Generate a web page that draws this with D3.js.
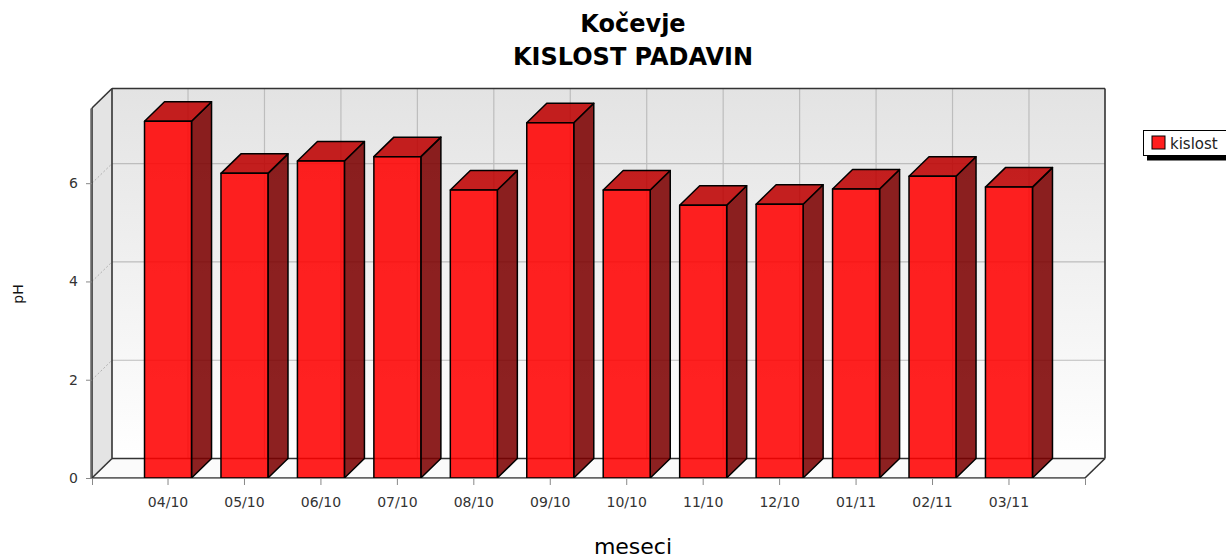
<!DOCTYPE html>
<html>
<head>
<meta charset="utf-8">
<script src="https://cdn.jsdelivr.net/npm/d3@7"></script>
<style>
  html, body { margin: 0; padding: 0; background: #ffffff; }
  svg { display: block; }
  text { font-family: "DejaVu Sans", sans-serif; }
</style>
</head>
<body>
<svg id="chart" width="1226" height="558"></svg>
<script>
// Monthly precipitation acidity (pH), Kočevje
const categories = ["04/10", "05/10", "06/10", "07/10", "08/10", "09/10",
                    "10/10", "11/10", "12/10", "01/11", "02/11", "03/11"];
const phValues = [7.26, 6.20, 6.45, 6.54, 5.86, 7.23, 5.86, 5.55, 5.57, 5.88, 6.14, 5.92];
const yTicks = [0, 2, 4, 6];
const titleLines = ["Kočevje", "KISLOST PADAVIN"];
const seriesName = "kislost";
const yTitle = "pH";
const xTitle = "meseci";
const yMax = 7.53;

const svg = d3.select("#chart");

// front face of the plot box and the 3D depth offset
const plot = { left: 92, right: 1085, top: 108, bottom: 478 };
const dx = 20, dy = 19.5;

const x = d3.scaleBand()
  .domain(categories)
  .range([plot.left, plot.right])
  .paddingInner(0.385)
  .paddingOuter(0.687);

const y = d3.scaleLinear()
  .domain([0, yMax])
  .range([plot.bottom, plot.top]);

const defs = svg.append("defs");
const grad = defs.append("linearGradient")
  .attr("id", "backWall").attr("x1", 0).attr("y1", 0).attr("x2", 0).attr("y2", 1);
grad.append("stop").attr("offset", "0%").attr("stop-color", "#e3e3e3");
grad.append("stop").attr("offset", "100%").attr("stop-color", "#ffffff");

const line = d3.line();
const bx0 = plot.left + dx, bx1 = plot.right + dx;
const byTop = plot.top - dy, byBot = plot.bottom - dy;

// walls
svg.append("path")
  .attr("d", line([[bx0, byTop], [bx1, byTop], [bx1, byBot], [bx0, byBot]]) + "Z")
  .attr("fill", "url(#backWall)");
svg.append("path")
  .attr("d", line([[plot.left, plot.top], [bx0, byTop], [bx0, byBot], [plot.left, plot.bottom]]) + "Z")
  .attr("fill", "#e4e4e4");
svg.append("path")
  .attr("d", line([[plot.left, plot.bottom], [bx0, byBot], [bx1, byBot], [plot.right, plot.bottom]]) + "Z")
  .attr("fill", "#fbfbfb");

// gridlines
const grid = svg.append("g");
yTicks.filter(v => v > 0).forEach(v => {
  const yy = y(v);
  grid.append("line")
    .attr("x1", bx0).attr("x2", bx1)
    .attr("y1", yy - dy).attr("y2", yy - dy)
    .attr("stroke", "#bdbdbd").attr("stroke-width", 1.2);
  grid.append("line")
    .attr("x1", plot.left).attr("y1", yy)
    .attr("x2", bx0).attr("y2", yy - dy)
    .attr("stroke", "#b0b0b0").attr("stroke-width", 1)
    .attr("stroke-dasharray", "2,2");
});
categories.forEach(c => {
  const cx = x(c) + x.bandwidth() / 2 + dx;
  grid.append("line")
    .attr("x1", cx).attr("x2", cx)
    .attr("y1", byTop).attr("y2", byBot)
    .attr("stroke", "#bdbdbd").attr("stroke-width", 1.2);
});

// wall outlines
const edgeColor = "#333333";
const edges = [
  [[plot.left, plot.top], [bx0, byTop]],
  [[bx0, byTop], [bx1, byTop]],
  [[bx1, byTop], [bx1, byBot]],
  [[bx0, byTop], [bx0, byBot]],
  [[bx0, byBot], [bx1, byBot]],
  [[plot.left, plot.bottom], [bx0, byBot]],
  [[plot.right, plot.bottom], [bx1, byBot]],
  [[plot.left, plot.bottom], [plot.right, plot.bottom]],
  [[plot.left, plot.top], [plot.left, plot.bottom]]
];
svg.append("g").selectAll("path").data(edges).join("path")
  .attr("d", d => line(d))
  .attr("fill", "none")
  .attr("stroke", edgeColor)
  .attr("stroke-width", 1.6);

// bars
const bars = svg.append("g").selectAll("g")
  .data(categories.map((c, i) => ({ c, v: phValues[i] })))
  .join("g");
const w = x.bandwidth();
const barStroke = { stroke: "#000000", "stroke-width": 1.5, "stroke-linejoin": "round" };
function applyStroke(sel) {
  Object.entries(barStroke).forEach(([k, v]) => sel.attr(k, v));
  return sel;
}
bars.append("path")
  .attr("d", d => {
    const x0 = x(d.c), yt = y(d.v), yb = y(0);
    return line([[x0 + w, yt], [x0 + w + dx, yt - dy], [x0 + w + dx, yb - dy], [x0 + w, yb]]) + "Z";
  })
  .attr("fill", "rgb(124,0,0)").attr("fill-opacity", 0.87)
  .call(applyStroke);
bars.append("path")
  .attr("d", d => {
    const x0 = x(d.c), yt = y(d.v);
    return line([[x0, yt], [x0 + dx, yt - dy], [x0 + w + dx, yt - dy], [x0 + w, yt]]) + "Z";
  })
  .attr("fill", "rgb(190,0,0)").attr("fill-opacity", 0.87)
  .call(applyStroke);
bars.append("rect")
  .attr("x", d => x(d.c))
  .attr("y", d => y(d.v))
  .attr("width", w)
  .attr("height", d => y(0) - y(d.v))
  .attr("fill", "rgb(255,0,0)").attr("fill-opacity", 0.87)
  .call(applyStroke);

// axes
const yAxis = svg.append("g")
  .attr("transform", `translate(${plot.left},0)`)
  .call(d3.axisLeft(y).tickValues(yTicks).tickFormat(d3.format("d"))
    .tickSize(6).tickSizeOuter(0).tickPadding(8));
yAxis.select(".domain").attr("stroke", "#6a6a6a").attr("stroke-width", 1.5)
  .attr("transform", "translate(-1.5,0)");
yAxis.selectAll(".tick line").attr("stroke", "#888888");
yAxis.selectAll(".tick text").attr("font-size", 14).attr("fill", "#333333")
  .attr("font-family", "DejaVu Sans");

const xAxis = svg.append("g")
  .attr("transform", `translate(0,${plot.bottom})`)
  .call(d3.axisBottom(x).tickSize(7).tickSizeOuter(7).tickPadding(12));
xAxis.select(".domain").attr("stroke", "#8a8a8a").attr("stroke-width", 1);
xAxis.selectAll(".tick line").attr("stroke", "#888888");
xAxis.selectAll(".tick text").attr("font-size", 14).attr("fill", "#333333")
  .attr("font-family", "DejaVu Sans");

// titles
svg.append("g").selectAll("text").data(titleLines).join("text")
  .attr("x", 633)
  .attr("y", (d, i) => 31.5 + i * 33.5)
  .attr("text-anchor", "middle")
  .attr("font-size", 24)
  .attr("font-weight", "bold")
  .attr("fill", "#000000")
  .text(d => d);

svg.append("text")
  .attr("x", 633).attr("y", 554)
  .attr("text-anchor", "middle")
  .attr("font-size", 22)
  .attr("fill", "#000000")
  .text(xTitle);

svg.append("text")
  .attr("transform", "translate(23,294) rotate(-90)")
  .attr("text-anchor", "middle")
  .attr("font-size", 14)
  .attr("fill", "#111111")
  .text(yTitle);

// legend
const legend = svg.append("g");
legend.append("rect")
  .attr("x", 1147).attr("y", 134).attr("width", 90).attr("height", 26.5)
  .attr("fill", "#000000");
legend.append("rect")
  .attr("x", 1143.5).attr("y", 130.5).attr("width", 90).attr("height", 25)
  .attr("fill", "#ffffff").attr("stroke", "#000000").attr("stroke-width", 1);
legend.append("rect")
  .attr("x", 1152).attr("y", 136).attr("width", 13).attr("height", 13)
  .attr("fill", "rgb(255,30,30)").attr("stroke", "#000000").attr("stroke-width", 1);
legend.append("text")
  .attr("x", 1170).attr("y", 149)
  .attr("font-size", 15)
  .attr("fill", "#222222")
  .text(seriesName);
</script>
</body>
</html>
